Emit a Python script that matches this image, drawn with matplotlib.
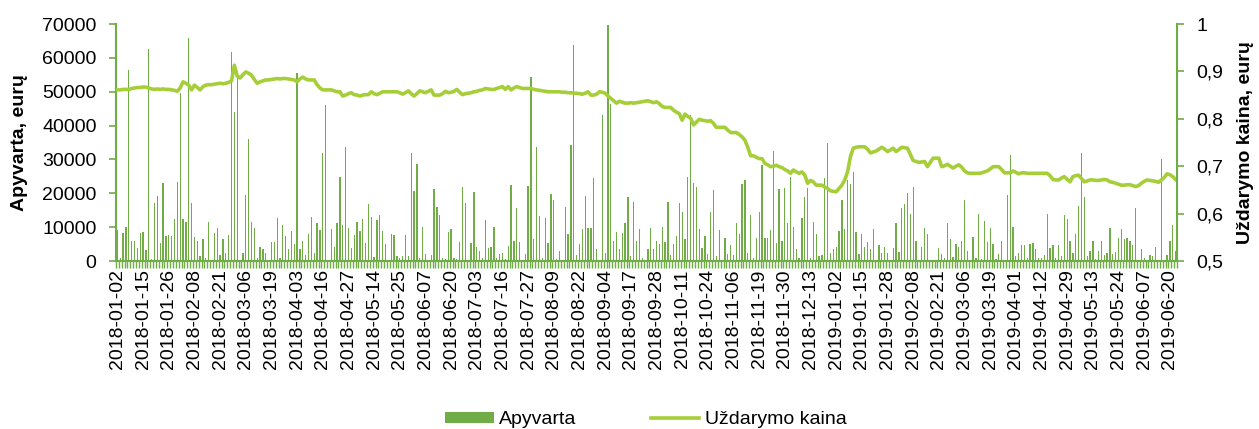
import matplotlib
matplotlib.use('Agg')
import matplotlib.pyplot as plt
import numpy as np
from matplotlib.lines import Line2D
from matplotlib.patches import Patch

plt.rcParams['font.family'] = ['Liberation Sans', 'DejaVu Sans']
plt.rcParams['font.size'] = 14

# every 9th trading day gets a date label
tick_labels = [
    '2018-01-02', '2018-01-15', '2018-01-26', '2018-02-08', '2018-02-21',
    '2018-03-06', '2018-03-19', '2018-04-03', '2018-04-16', '2018-04-27',
    '2018-05-14', '2018-05-25', '2018-06-07', '2018-06-20', '2018-07-03',
    '2018-07-16', '2018-07-27', '2018-08-09', '2018-08-22', '2018-09-04',
    '2018-09-17', '2018-09-28', '2018-10-11', '2018-10-24', '2018-11-06',
    '2018-11-19', '2018-11-30', '2018-12-13', '2019-01-02', '2019-01-15',
    '2019-01-28', '2019-02-08', '2019-02-21', '2019-03-06', '2019-03-19',
    '2019-04-01', '2019-04-12', '2019-04-29', '2019-05-13', '2019-05-24',
    '2019-06-07', '2019-06-20',
]
label_step = 9

# daily turnover, EUR
turnover = [
    9100, 1000, 8200, 10000, 56400, 5900, 6000, 3800, 8400, 8700,
    3200, 62700, 500, 17000, 19200, 5300, 22900, 7400, 7600, 7500,
    12400, 23200, 49500, 12400, 11500, 65800, 17000, 7200, 6000, 1500,
    6600, 800, 11500, 300, 8200, 9800, 1800, 6600, 2500, 7600,
    61700, 44100, 56000, 300, 2500, 19400, 35900, 11600, 9800, 800,
    4200, 3500, 2400, 300, 5500, 5500, 12800, 1000, 10600, 7400,
    3500, 9000, 5000, 55600, 3500, 5800, 1800, 8000, 12900, 2400,
    11100, 9200, 32000, 46000, 300, 9400, 4100, 11300, 24700, 10500,
    33600, 9700, 3900, 7600, 11600, 8900, 12400, 5300, 16800, 13000,
    1200, 12200, 13600, 8800, 5000, 400, 8000, 7600, 1500, 800,
    1500, 7600, 1500, 32000, 20800, 28600, 800, 10000, 2000, 400,
    1800, 21400, 16000, 13700, 800, 500, 8500, 9500, 800, 500,
    5500, 21800, 17000, 300, 5300, 20400, 4100, 3000, 800, 12100,
    3700, 4100, 9900, 800, 2200, 2300, 500, 4300, 22400, 5900,
    15700, 5600, 400, 2000, 22100, 54400, 6600, 33600, 13200, 800,
    12800, 5300, 19800, 18000, 500, 3100, 200, 16000, 8000, 34200,
    63800, 1800, 5000, 9500, 19200, 9700, 9700, 24500, 3500, 400,
    43000, 2400, 69800, 46400, 6000, 8500, 3500, 8200, 11300, 19000,
    1500, 17400, 6000, 9400, 1000, 300, 3500, 9800, 3500, 5900,
    5000, 10000, 5600, 17400, 1800, 5000, 7500, 17000, 14500, 6500,
    24700, 43200, 23000, 21800, 9400, 3900, 7400, 2000, 14600, 21100,
    1500, 9200, 300, 6900, 2200, 4600, 1800, 11100, 8000, 22800,
    24000, 2300, 13500, 1000, 6700, 14600, 28400, 6900, 6900, 9200,
    32400, 5300, 21400, 5800, 21600, 11300, 24700, 10000, 3500, 1000,
    12800, 19000, 21600, 800, 11400, 8100, 1500, 1800, 24500, 35000,
    2400, 3500, 4100, 8900, 18000, 9400, 24000, 22800, 26300, 8500,
    2200, 8000, 4100, 5500, 3500, 9400, 300, 4600, 2500, 4100,
    2500, 300, 3900, 11100, 2600, 15600, 16700, 20200, 13800, 21800,
    5900, 300, 4100, 9600, 8000, 300, 300, 300, 3900, 2200,
    1000, 11100, 6500, 1200, 5000, 4100, 6000, 18000, 3100, 300,
    7200, 1000, 13800, 500, 11800, 5500, 9800, 5000, 500, 2200,
    5800, 300, 19400, 31400, 10000, 1500, 2400, 4600, 4600, 1000,
    5000, 5300, 3600, 900, 1000, 1800, 13800, 3700, 4600, 800,
    4600, 1500, 13500, 12400, 5900, 2500, 8000, 16200, 32000, 18800,
    1400, 3100, 5800, 600, 3000, 5800, 1800, 2400, 9700, 2000,
    2700, 6900, 9500, 6500, 6900, 5800, 4600, 15800, 300, 3500,
    1000, 400, 1800, 1400, 4100, 300, 30000, 300, 1800, 5900,
    10700, 3000,
]

# closing price, EUR
close_price = [
    0.861, 0.861, 0.862, 0.862, 0.862, 0.864, 0.865, 0.866, 0.866, 0.867,
    0.867, 0.865, 0.863, 0.862, 0.863, 0.862, 0.863, 0.862, 0.862, 0.861,
    0.860, 0.858, 0.865, 0.878, 0.875, 0.871, 0.861, 0.871, 0.866, 0.861,
    0.868, 0.871, 0.872, 0.872, 0.873, 0.874, 0.875, 0.874, 0.875, 0.877,
    0.880, 0.913, 0.890, 0.886, 0.893, 0.899, 0.896, 0.892, 0.883, 0.875,
    0.878, 0.880, 0.882, 0.882, 0.883, 0.884, 0.885, 0.884, 0.885, 0.885,
    0.884, 0.883, 0.882, 0.878, 0.884, 0.888, 0.884, 0.882, 0.882, 0.882,
    0.872, 0.865, 0.861, 0.861, 0.861, 0.861, 0.859, 0.857, 0.857, 0.848,
    0.850, 0.853, 0.855, 0.851, 0.850, 0.848, 0.850, 0.851, 0.851, 0.857,
    0.853, 0.851, 0.854, 0.857, 0.857, 0.857, 0.857, 0.857, 0.857, 0.855,
    0.852, 0.855, 0.859, 0.853, 0.848, 0.853, 0.859, 0.857, 0.855, 0.858,
    0.861, 0.850, 0.850, 0.850, 0.853, 0.858, 0.855, 0.856, 0.858, 0.862,
    0.856, 0.851, 0.853, 0.854, 0.855, 0.857, 0.858, 0.860, 0.861, 0.864,
    0.863, 0.862, 0.862, 0.864, 0.866, 0.868, 0.862, 0.868, 0.861, 0.865,
    0.868, 0.866, 0.864, 0.864, 0.864, 0.864, 0.862, 0.861, 0.860, 0.859,
    0.858, 0.857, 0.857, 0.857, 0.857, 0.857, 0.856, 0.856, 0.855, 0.855,
    0.854, 0.854, 0.853, 0.852, 0.854, 0.857, 0.850, 0.850, 0.852, 0.857,
    0.856, 0.854, 0.848, 0.843, 0.838, 0.833, 0.837, 0.835, 0.833, 0.833,
    0.834, 0.833, 0.834, 0.835, 0.836, 0.837, 0.838, 0.836, 0.834, 0.836,
    0.832, 0.826, 0.824, 0.824, 0.824, 0.818, 0.814, 0.811, 0.797, 0.810,
    0.805, 0.801, 0.787, 0.793, 0.799, 0.797, 0.796, 0.795, 0.796, 0.790,
    0.782, 0.782, 0.782, 0.782, 0.776, 0.771, 0.771, 0.771, 0.767, 0.762,
    0.755, 0.740, 0.722, 0.722, 0.719, 0.716, 0.716, 0.706, 0.703, 0.699,
    0.700, 0.702, 0.699, 0.697, 0.693, 0.690, 0.685, 0.692, 0.688, 0.685,
    0.688, 0.681, 0.664, 0.670, 0.667, 0.660, 0.660, 0.660, 0.656, 0.653,
    0.648, 0.647, 0.646, 0.653, 0.660, 0.671, 0.688, 0.720, 0.738, 0.740,
    0.741, 0.741, 0.741, 0.736, 0.728, 0.730, 0.732, 0.736, 0.740, 0.736,
    0.731, 0.734, 0.738, 0.731, 0.735, 0.740, 0.739, 0.738, 0.725, 0.712,
    0.710, 0.708, 0.709, 0.710, 0.699, 0.708, 0.717, 0.717, 0.717, 0.699,
    0.701, 0.704, 0.700, 0.696, 0.700, 0.703, 0.698, 0.690, 0.686, 0.685,
    0.685, 0.685, 0.685, 0.686, 0.688, 0.690, 0.694, 0.699, 0.699, 0.699,
    0.693, 0.686, 0.686, 0.686, 0.690, 0.687, 0.684, 0.686, 0.686, 0.685,
    0.685, 0.685, 0.685, 0.685, 0.685, 0.685, 0.685, 0.680, 0.672, 0.671,
    0.671, 0.675, 0.678, 0.672, 0.667, 0.678, 0.680, 0.681, 0.674, 0.667,
    0.669, 0.671, 0.671, 0.670, 0.670, 0.671, 0.672, 0.671, 0.667, 0.666,
    0.664, 0.662, 0.660, 0.660, 0.661, 0.661, 0.659, 0.657, 0.659, 0.664,
    0.668, 0.671, 0.670, 0.669, 0.668, 0.666, 0.671, 0.676, 0.684, 0.682,
    0.678, 0.672,
]

price_ticks = [0.5, 0.6, 0.7, 0.8, 0.9, 1.0]
price_tick_labels = ['0,5', '0,6', '0,7', '0,8', '0,9', '1']

bar_color = '#70AD47'
line_color = '#A6CE39'
axis_color = '#70AD47'

fig = plt.figure(figsize=(12.59, 4.29), dpi=100)
ax = fig.add_axes([116 / 1259, 1 - 261 / 429, 1061 / 1259, 237 / 429])

x = np.arange(len(turnover))
ax.bar(x, turnover, width=0.45, color=bar_color, linewidth=0)
ax.set_xlim(-0.5, len(x) - 0.5)
ax.set_ylim(0, 70000)
ax.set_yticks(np.arange(0, 70001, 10000))

ax.set_xticks(x[::label_step][:len(tick_labels)])
ax.set_xticklabels(tick_labels, rotation=90)
ax.set_xticks(np.arange(len(x) + 1) - 0.5, minor=True)
ax.tick_params(axis='x', which='major', length=0, pad=6)
ax.tick_params(axis='x', which='minor', length=5, width=1, color=axis_color)
ax.tick_params(axis='y', length=5, width=1.2, color=axis_color, pad=9)

for side in ['left', 'bottom']:
    ax.spines[side].set_color(axis_color)
    ax.spines[side].set_linewidth(1.5)
for side in ['top', 'right']:
    ax.spines[side].set_visible(False)

ax.set_ylabel('Apyvarta, eurų', fontweight='bold')
ax.yaxis.set_label_coords((28 - 116) / 1061, 0.5)

ax2 = ax.twinx()
ax2.plot(x, close_price, color=line_color, linewidth=2.6, solid_joinstyle='round')
ax2.set_ylim(0.5, 1.0)
ax2.set_yticks(price_ticks)
ax2.set_yticklabels(price_tick_labels)
ax2.tick_params(axis='y', length=5, width=1.2, color=axis_color, pad=9)
for side in ['left', 'bottom', 'top']:
    ax2.spines[side].set_visible(False)
ax2.spines['right'].set_color(axis_color)
ax2.spines['right'].set_linewidth(1.5)
ax2.set_ylabel('Uždarymo kaina, eurų', fontweight='bold')
ax2.yaxis.set_label_coords((1237 - 116) / 1061, 0.5)

handles = [Patch(facecolor=bar_color, edgecolor='none'),
           Line2D([0], [0], color=line_color, linewidth=2.6)]
fig.legend(handles, ['Apyvarta', 'Uždarymo kaina'], loc='center',
           bbox_to_anchor=(0.513, 0.022), ncol=2, frameon=False,
           handlelength=2.5, handleheight=0.5, columnspacing=3.8,
           handletextpad=0.3)

fig.savefig('out.png', dpi=100)
